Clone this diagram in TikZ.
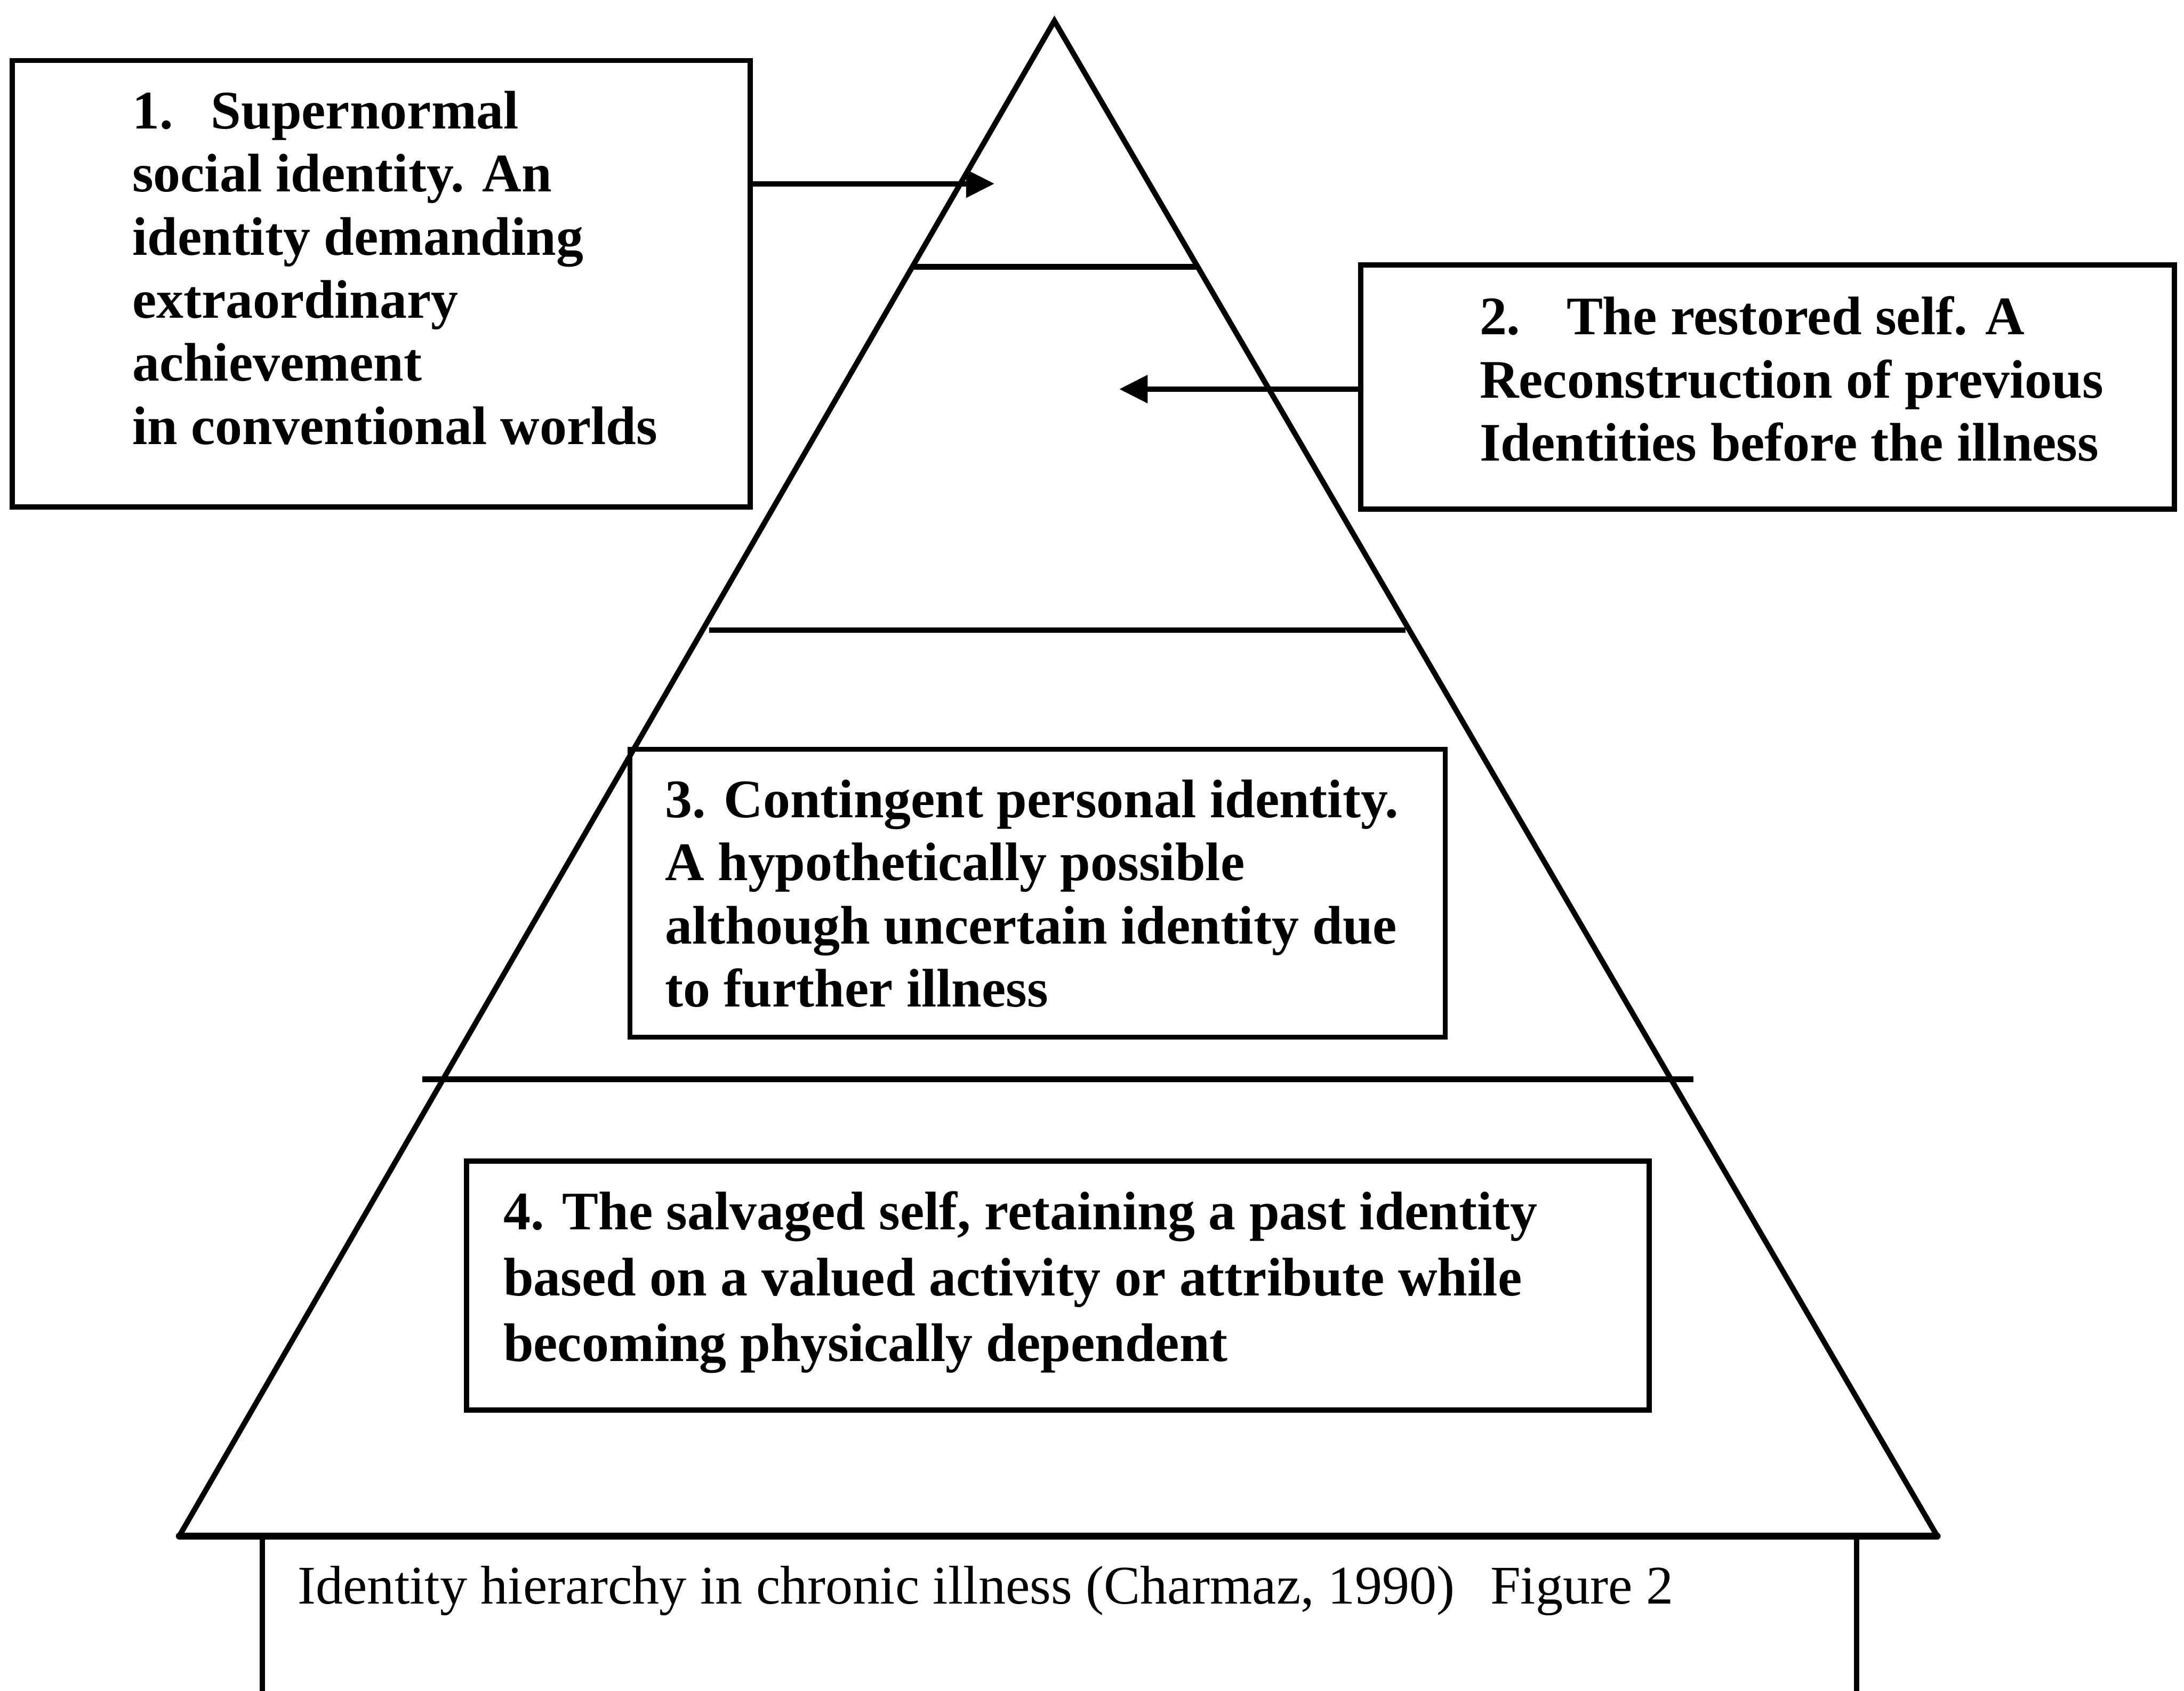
\documentclass[tikz,border=0pt]{standalone}
\usepackage{fontspec}
\setmainfont{Liberation Serif}
\usetikzlibrary{arrows.meta}
\newlength{\pu}\setlength{\pu}{0.034426cm}
\begin{document}
\begin{tikzpicture}[x=0.034426cm,y=-0.034426cm,
  box/.style={draw, line width=3.6pt, rectangle, inner sep=0pt, outer sep=0pt},
  boxtext/.style={anchor=base west, align=left, inner sep=0pt, outer sep=0pt,
    font=\fontsize{38.2}{44.4}\selectfont\bfseries},
  captext/.style={anchor=base west, inner sep=0pt, outer sep=0pt,
    font=\fontsize{38.3}{44}\selectfont},
  edge/.style={line width=3.8pt, line cap=round, line join=round},
  tier/.style={line width=4pt, line cap=butt},
  arr/.style={line width=3.8pt, -{Triangle[length=20pt,width=19pt]}}]
\useasboundingbox (0,0) rectangle (1568,1214);
% pyramid
\coordinate (apex) at (757,15);
\coordinate (bl) at (128.7,1103);
\coordinate (br) at (1390.8,1103);
\draw[edge, line join=miter] (bl) -- (apex) -- (br);
\draw[line width=4.8pt, line cap=round] (bl) -- (br);
% tier lines
\draw[tier] (656,191.5) -- (860.7,191.5);
\draw[tier] (509,452.5) -- (1009,452.5);
\draw[tier] (303,775) -- (1215.7,775);
% caption frame
\draw[line width=3.8pt] (188.5,1103) -- (188.5,1220);
\draw[line width=3.8pt] (1333,1103) -- (1333,1220);
% boxes
\node[box, minimum width=529.8\pu, minimum height=320.6\pu] (b1) at (273.7,203.7) {};
\node[box, minimum width=584.1\pu, minimum height=175.2\pu] (b2) at (1268.95,277.9) {};
\node[box, minimum width=585.3\pu, minimum height=206.8\pu] (b3) at (744.95,641.4) {};
\node[box, minimum width=849\pu, minimum height=178.9\pu] (b4) at (759.5,923.15) {};
% texts (anchored at the baseline of the last line)
\node[boxtext] (t1) at (95,319) {1.\hspace{0.7em}Supernormal\\social identity. An\\identity demanding\\extraordinary\\achievement\\in conventional worlds};
\node[boxtext] (t2) at (1062.3,331) {2.\hspace{0.85em}The restored self. A\\Reconstruction of previous\\Identities before the illness};
\node[boxtext] (t3) at (477.5,723) {3. Contingent personal identity.\\A hypothetically possible\\although uncertain identity due\\to further illness};
\node[boxtext, font=\fontsize{38.2}{46.2}\selectfont\bfseries] (t4) at (361.4,977.4) {4. The salvaged self, retaining a past identity\\based on a valued activity or attribute while\\becoming physically dependent};
\node[captext] (cap) at (213.8,1151.8) {Identity hierarchy in chronic illness (Charmaz, 1990)\hspace{0.65em}Figure 2};
% arrows
\coordinate (a1) at (714,131.9);
\coordinate (a2) at (803.5,279.4);
\draw[arr] (b1.east |- a1) -- (a1);
\draw[arr] (b2.west |- a2) -- (a2);
\end{tikzpicture}
\end{document}
